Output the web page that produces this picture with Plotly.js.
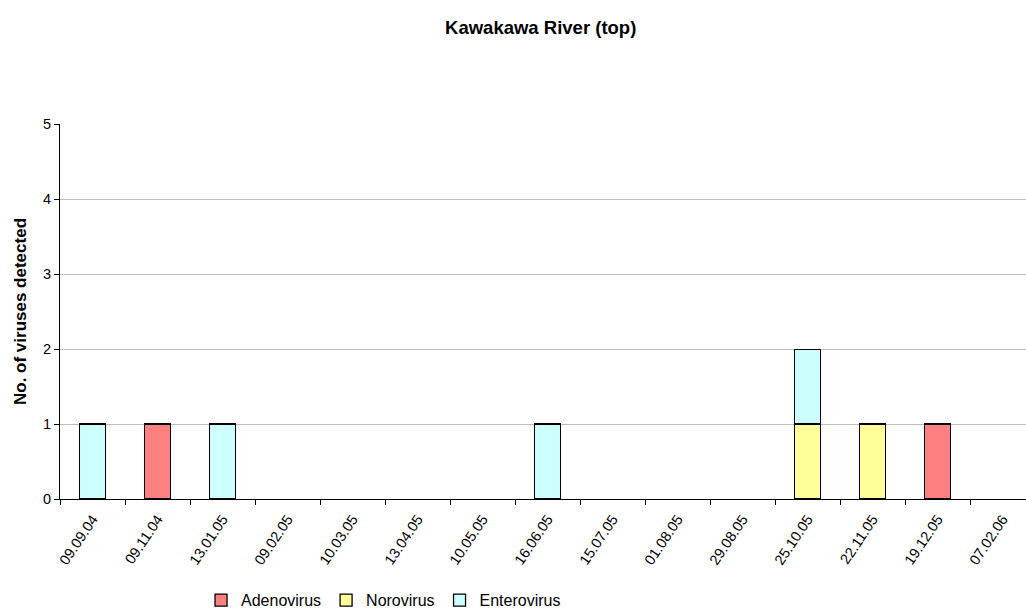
<!DOCTYPE html>
<html><head><meta charset="utf-8">
<script src="https://cdn.plot.ly/plotly-3.0.1.min.js"></script>
<style>html,body{margin:0;padding:0;background:#fff}#c{width:1026px;height:613px}</style>
</head><body><div id="c"></div>
<script>
var dates = ["09.09.04","09.11.04","13.01.05","09.02.05","10.03.05","13.04.05","10.05.05","16.06.05","15.07.05","01.08.05","29.08.05","25.10.05","22.11.05","19.12.05","07.02.06"];
var adenovirus  = [0,1,0,0,0,0,0,0,0,0,0,0,0,1,0];
var norovirus   = [0,0,0,0,0,0,0,0,0,0,0,1,1,0,0];
var enterovirus = [1,0,1,0,0,0,0,1,0,0,0,1,0,0,0];
var yTicks = [0,1,2,3,4,5];

function bar(name, vals, color){
  var xs = [], ys = [];
  vals.forEach(function(v, i){ if (v > 0) { xs.push(dates[i]); ys.push(v); } });
  return {type:'bar', name:name, x:xs, y:ys, width:0.4,
    marker:{color:color, line:{color:'#000', width:1.3}}};
}
var data = [
  bar('Adenovirus', adenovirus, '#FF8080'),
  bar('Norovirus', norovirus, '#FFFF99'),
  bar('Enterovirus', enterovirus, '#CCFFFF')
];
var layout = {
  width:1026, height:613,
  margin:{l:60, r:0, t:124, b:114, autoexpand:false},
  paper_bgcolor:'#fff', plot_bgcolor:'#fff',
  font:{family:'Liberation Sans, Arial, sans-serif', color:'#000', size:14},
  barmode:'stack',
  title:{text:'<b>Kawakawa River (top)</b>', font:{size:18.5}, x:0.527, xanchor:'center', y:0.955, yanchor:'middle'},
  xaxis:{type:'category', categoryorder:'array', categoryarray:dates, tickvals:dates, range:[-0.5, 14.36],
    tickson:'boundaries', ticks:'outside', ticklen:5, tickcolor:'#000', ticklabelstandoff:5,
    showline:true, linecolor:'#000', linewidth:1, showgrid:false, tickangle:-56, tickfont:{size:14.5}, fixedrange:true},
  yaxis:{range:[0,5.005], tickvals:yTicks, ticks:'outside', ticklen:5, tickcolor:'#000', showline:true, linecolor:'#000', linewidth:1,
    showgrid:true, gridcolor:'#BDBDBD', gridwidth:1, zeroline:false, tickfont:{size:14.5},
    title:{text:'<b>No. of viruses detected</b>', font:{size:17}, standoff:12}},
  showlegend:true,
  legend:{orientation:'h', x:0.146, xanchor:'left', xref:'paper', yref:'container', y:0.021, yanchor:'middle', traceorder:'normal',
    font:{size:16}, itemwidth:30, bgcolor:'rgba(0,0,0,0)'}
};
Plotly.newPlot('c', data, layout, {displayModeBar:false, staticPlot:true});
</script></body></html>
